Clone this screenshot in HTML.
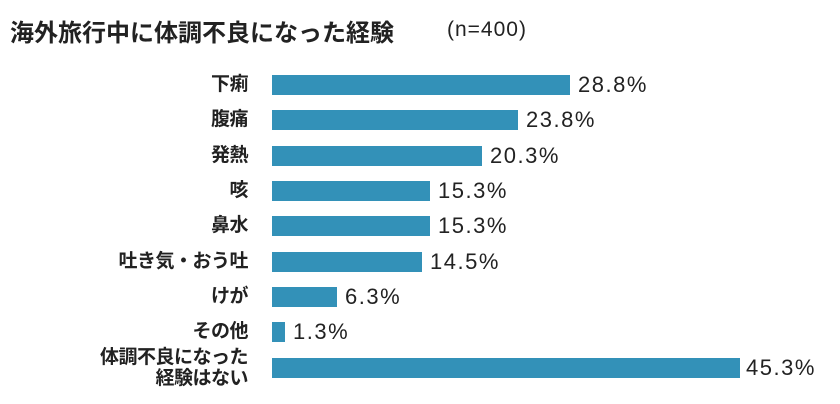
<!DOCTYPE html>
<html><head><meta charset="utf-8"><style>
body{margin:0;width:840px;height:404px;background:#fff;position:relative;overflow:hidden;font-family:"Liberation Sans","Noto Sans CJK JP",sans-serif;}
.t{position:absolute;left:10px;top:13px;font-size:24px;font-weight:bold;color:#222;}
.n{position:absolute;left:447px;top:18px;font-size:21px;color:#222;letter-spacing:1px;}
.l{position:absolute;right:592px;font-size:19px;font-weight:bold;color:#222;text-align:right;line-height:21px;letter-spacing:-0.5px;}
.b{position:absolute;left:272px;height:20px;background:#3391b8;}
.v{position:absolute;font-size:22px;color:#222;letter-spacing:1.5px;}
</style></head><body>
<div class="t">海外旅行中に体調不良になった経験</div>
<div class="n">(n=400)</div>

<div class="l" style="top:74px">下痢</div><div class="b" style="top:75px;width:298px"></div><div class="v" style="top:72px;left:578px">28.8%</div>
<div class="l" style="top:109px">腹痛</div><div class="b" style="top:110px;width:246px"></div><div class="v" style="top:107px;left:526px">23.8%</div>
<div class="l" style="top:145px">発熱</div><div class="b" style="top:146px;width:210px"></div><div class="v" style="top:143px;left:490px">20.3%</div>
<div class="l" style="top:180px">咳</div><div class="b" style="top:181px;width:158px"></div><div class="v" style="top:178px;left:438px">15.3%</div>
<div class="l" style="top:215px">鼻水</div><div class="b" style="top:216px;width:158px"></div><div class="v" style="top:213px;left:438px">15.3%</div>
<div class="l" style="top:251px">吐き気・おう吐</div><div class="b" style="top:252px;width:150px"></div><div class="v" style="top:249px;left:430px">14.5%</div>
<div class="l" style="top:286px">けが</div><div class="b" style="top:287px;width:65px"></div><div class="v" style="top:284px;left:345px">6.3%</div>
<div class="l" style="top:321px">その他</div><div class="b" style="top:322px;width:13px"></div><div class="v" style="top:319px;left:293px">1.3%</div>
<div class="l" style="top:347px">体調不良になった<br>経験はない</div><div class="b" style="top:358px;width:468px"></div><div class="v" style="top:355px;left:746px">45.3%</div>
</body></html>
